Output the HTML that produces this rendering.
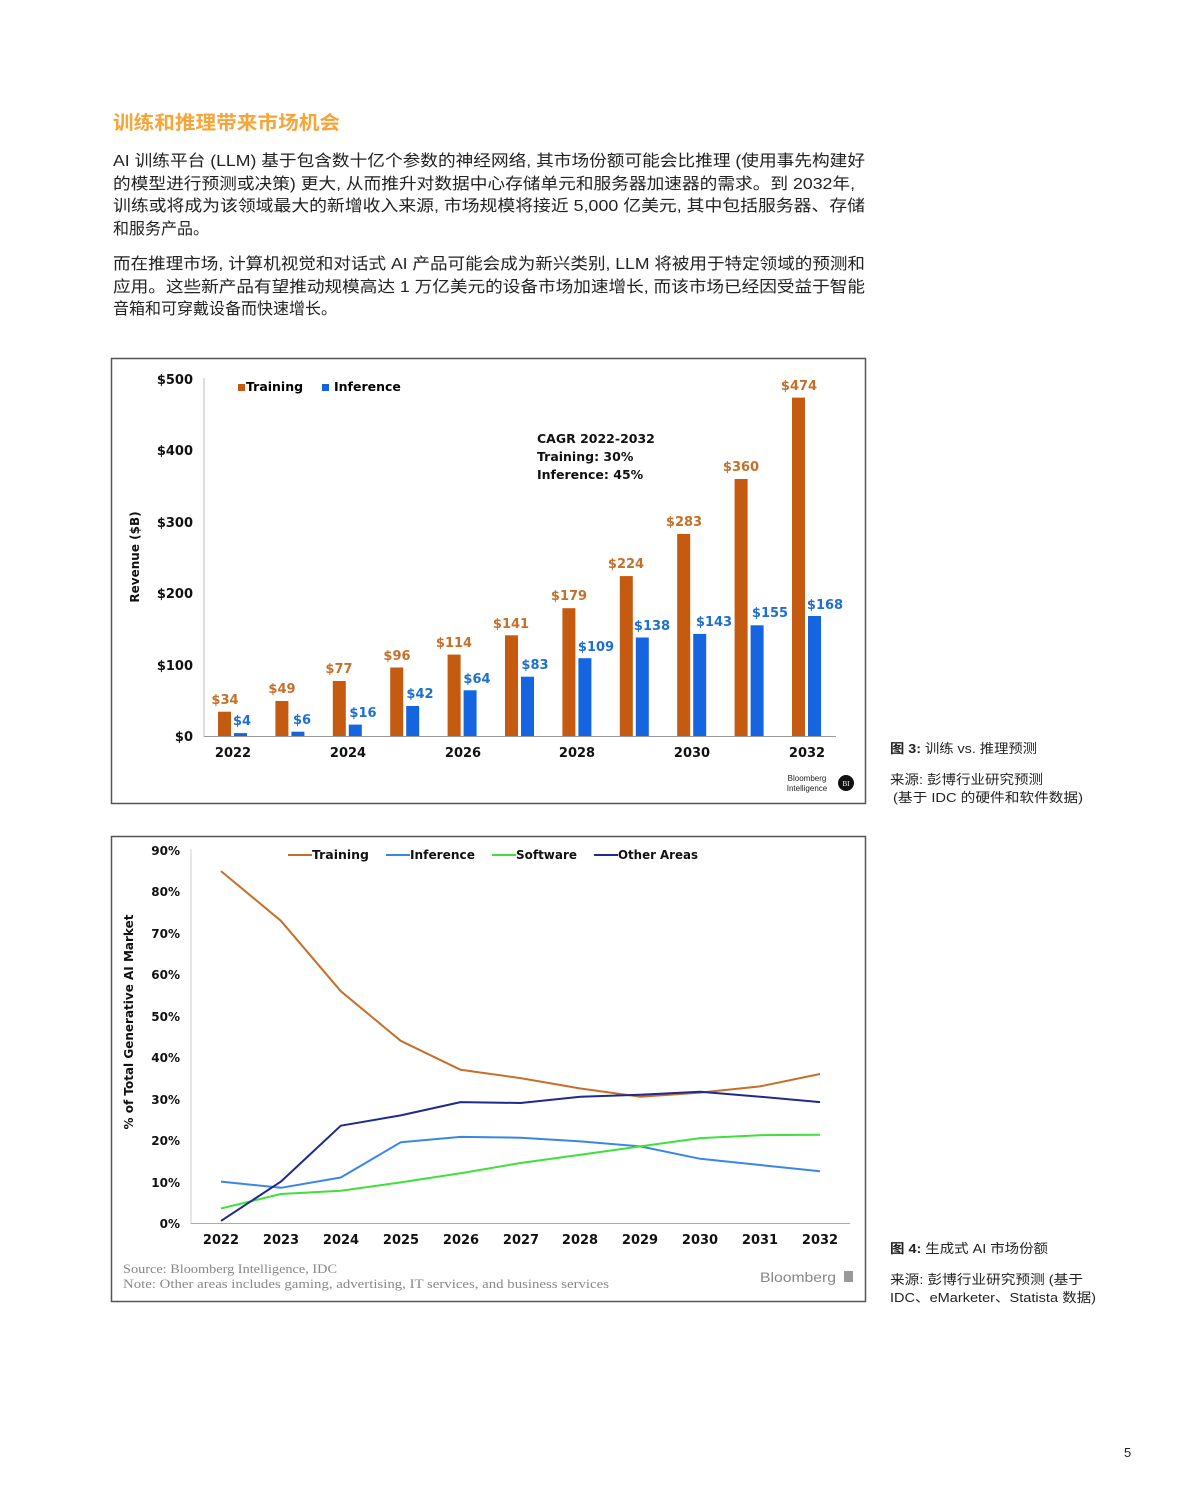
<!DOCTYPE html>
<html><head><meta charset="utf-8"><style>
body{margin:0;background:#fff;width:1200px;height:1501px;overflow:hidden;}
svg{display:block}
.cn{font-family:"Liberation Sans","Noto Sans CJK SC",sans-serif;}
.b{font-family:"DejaVu Sans","Liberation Sans",sans-serif;font-weight:bold;}
</style></head><body>
<svg width="1200" height="1501" viewBox="0 0 1200 1501" xmlns="http://www.w3.org/2000/svg">
<g class="cn">
<text x="113" y="129" font-size="19" font-weight="bold" fill="#f5a53a" textLength="227" lengthAdjust="spacingAndGlyphs">训练和推理带来市场机会</text>
<g font-size="16" fill="#222">
<text x="113" y="166" textLength="752" lengthAdjust="spacingAndGlyphs">AI 训练平台 (LLM) 基于包含数十亿个参数的神经网络, 其市场份额可能会比推理 (使用事先构建好</text>
<text x="113" y="189" textLength="742" lengthAdjust="spacingAndGlyphs">的模型进行预测或决策) 更大, 从而推升对数据中心存储单元和服务器加速器的需求。到 2032年,</text>
<text x="113" y="211" textLength="752" lengthAdjust="spacingAndGlyphs">训练或将成为该领域最大的新增收入来源, 市场规模将接近 5,000 亿美元, 其中包括服务器、存储</text>
<text x="113" y="234">和服务产品。</text>
<text x="113" y="269" textLength="752" lengthAdjust="spacingAndGlyphs">而在推理市场, 计算机视觉和对话式 AI 产品可能会成为新兴类别, LLM 将被用于特定领域的预测和</text>
<text x="113" y="292" textLength="752" lengthAdjust="spacingAndGlyphs">应用。这些新产品有望推动规模高达 1 万亿美元的设备市场加速增长, 而该市场已经因受益于智能</text>
<text x="113" y="314">音箱和可穿戴设备而快速增长。</text>
</g>
<g font-size="13" fill="#222">
<text x="890" y="753" textLength="147" lengthAdjust="spacingAndGlyphs"><tspan font-weight="bold">图 3:</tspan> 训练 vs. 推理预测</text>
<text x="890" y="784" textLength="153" lengthAdjust="spacingAndGlyphs">来源: 彭博行业研究预测</text>
<text x="893" y="802" textLength="190" lengthAdjust="spacingAndGlyphs">(基于 IDC 的硬件和软件数据)</text>
<text x="890" y="1253" textLength="158" lengthAdjust="spacingAndGlyphs"><tspan font-weight="bold">图 4:</tspan> 生成式 AI 市场份额</text>
<text x="890" y="1284" textLength="193" lengthAdjust="spacingAndGlyphs">来源: 彭博行业研究预测 (基于</text>
<text x="890" y="1302" textLength="206" lengthAdjust="spacingAndGlyphs">IDC、eMarketer、Statista 数据)</text>
<text x="1124" y="1457">5</text>
</g>
</g>

<!-- Chart 1 -->
<rect x="111.5" y="358.5" width="754" height="445" fill="#fff" stroke="#555" stroke-width="1.5"/>
<line x1="204" y1="378" x2="204" y2="737" stroke="#bbb"/>
<line x1="204" y1="736.5" x2="836" y2="736.5" stroke="#999"/>
<g class="b" font-size="13" fill="#111" text-anchor="end">
<text x="193" y="741">$0</text><text x="193" y="670">$100</text><text x="193" y="598">$200</text>
<text x="193" y="527">$300</text><text x="193" y="455">$400</text><text x="193" y="384">$500</text>
</g>
<text class="b" font-size="12" fill="#111" transform="translate(139,557) rotate(-90)" text-anchor="middle">Revenue ($B)</text>
<rect x="238" y="384" width="7" height="7" fill="#c55a11"/><text class="b" x="246" y="391" font-size="12.5">Training</text>
<rect x="322" y="384" width="7" height="7" fill="#1565e0"/><text class="b" x="334" y="391" font-size="12.5">Inference</text>
<g class="b" font-size="12.5" fill="#111"><text x="537" y="443">CAGR 2022-2032</text><text x="537" y="461">Training: 30%</text><text x="537" y="479">Inference: 45%</text></g>
<g fill="#c55a11">
<rect x="218" y="711.7" width="13" height="24.3"/><rect x="275.4" y="701" width="13" height="35"/><rect x="332.8" y="681" width="13" height="55"/><rect x="390.2" y="667.5" width="13" height="68.5"/><rect x="447.6" y="654.6" width="13" height="81.4"/><rect x="505" y="635.3" width="13" height="100.7"/><rect x="562.4" y="608.2" width="13" height="127.8"/><rect x="619.8" y="576.1" width="13" height="159.9"/><rect x="677.2" y="533.9" width="13" height="202.1"/><rect x="734.6" y="479" width="13" height="257"/><rect x="792" y="397.6" width="13" height="338.4"/>
</g>
<g fill="#1565e0">
<rect x="234" y="733.1" width="13" height="2.9"/><rect x="291.4" y="731.7" width="13" height="4.3"/><rect x="348.8" y="724.6" width="13" height="11.4"/><rect x="406.2" y="706" width="13" height="30"/><rect x="463.6" y="690.3" width="13" height="45.7"/><rect x="521" y="676.7" width="13" height="59.3"/><rect x="578.4" y="658.2" width="13" height="77.8"/><rect x="635.8" y="637.5" width="13" height="98.5"/><rect x="693.2" y="633.9" width="13" height="102.1"/><rect x="750.6" y="625.3" width="13" height="110.7"/><rect x="808" y="616" width="13" height="120"/>
</g>
<g class="b" font-size="13" fill="#c5702a" text-anchor="middle">
<text x="225" y="704">$34</text><text x="282" y="693">$49</text><text x="339" y="673">$77</text><text x="397" y="660">$96</text><text x="454" y="647">$114</text><text x="511" y="628">$141</text><text x="569" y="600">$179</text><text x="626" y="568">$224</text><text x="684" y="526">$283</text><text x="741" y="471">$360</text><text x="799" y="390">$474</text>
</g>
<g class="b" font-size="13" fill="#1f6fd0" text-anchor="middle">
<text x="242" y="725">$4</text><text x="302" y="724">$6</text><text x="363" y="717">$16</text><text x="420" y="698">$42</text><text x="477" y="683">$64</text><text x="535" y="669">$83</text><text x="596" y="651">$109</text><text x="652" y="630">$138</text><text x="714" y="626">$143</text><text x="770" y="617">$155</text><text x="825" y="609">$168</text>
</g>
<g class="b" font-size="13" fill="#111" text-anchor="middle">
<text x="233" y="757">2022</text><text x="348" y="757">2024</text><text x="463" y="757">2026</text><text x="577" y="757">2028</text><text x="692" y="757">2030</text><text x="807" y="757">2032</text>
</g>
<text x="807" y="781" font-size="8" font-family="Liberation Sans" text-anchor="middle" fill="#222">Bloomberg</text>
<text x="807" y="791" font-size="8" font-family="Liberation Sans" text-anchor="middle" fill="#222">Intelligence</text>
<circle cx="846" cy="783" r="8" fill="#111"/><text x="846" y="786" font-size="7" fill="#fff" text-anchor="middle" font-family="Liberation Serif">BI</text>

<!-- Chart 2 -->
<rect x="111.5" y="836.5" width="754" height="465" fill="#fff" stroke="#555" stroke-width="1.5"/>
<line x1="191" y1="849" x2="191" y2="1224" stroke="#ccc"/>
<line x1="191" y1="1223.5" x2="850" y2="1223.5" stroke="#aaa"/>
<g class="b" font-size="12" fill="#111" text-anchor="end">
<text x="180" y="1228">0%</text><text x="180" y="1187">10%</text><text x="180" y="1145">20%</text><text x="180" y="1104">30%</text><text x="180" y="1062">40%</text><text x="180" y="1021">50%</text><text x="180" y="979">60%</text><text x="180" y="938">70%</text><text x="180" y="896">80%</text><text x="180" y="855">90%</text>
</g>
<text class="b" font-size="12" fill="#111" transform="translate(133,1022) rotate(-90)" text-anchor="middle">% of Total Generative AI Market</text>
<g class="b" font-size="12.5" fill="#111">
<line x1="288" y1="855" x2="312" y2="855" stroke="#c5702a" stroke-width="2"/><text x="312" y="859" textLength="57" lengthAdjust="spacingAndGlyphs">Training</text>
<line x1="386" y1="855" x2="410" y2="855" stroke="#3a86e8" stroke-width="2"/><text x="410" y="859" textLength="65" lengthAdjust="spacingAndGlyphs">Inference</text>
<line x1="492" y1="855" x2="516" y2="855" stroke="#3ee03a" stroke-width="2"/><text x="516" y="859" textLength="61" lengthAdjust="spacingAndGlyphs">Software</text>
<line x1="594" y1="855" x2="618" y2="855" stroke="#1f2a8c" stroke-width="2"/><text x="618" y="859" textLength="80" lengthAdjust="spacingAndGlyphs">Other Areas</text>
</g>
<g fill="none" stroke-width="2" stroke-linejoin="round">
<polyline stroke="#c5702a" points="221,871.1 280.9,920.8 340.8,991.2 400.7,1040.8 460.6,1069.8 520.5,1078.1 580.4,1088.5 640.3,1096.7 700.2,1092.6 760.1,1086.4 820,1074"/>
<polyline stroke="#3a86e8" points="221,1181.6 280.9,1187.8 340.8,1177.5 400.7,1142.3 460.6,1136.9 520.5,1137.7 580.4,1141.4 640.3,1146.4 700.2,1158.8 760.1,1165 820,1171.3"/>
<polyline stroke="#3ee03a" points="221,1208.5 280.9,1194 340.8,1190.7 400.7,1182.4 460.6,1173.3 520.5,1163 580.4,1154.7 640.3,1146.4 700.2,1138.1 760.1,1135.2 820,1134.8"/>
<polyline stroke="#1f2a8c" points="221,1220.9 280.9,1181.6 340.8,1125.7 400.7,1115.4 460.6,1102.1 520.5,1103 580.4,1096.7 640.3,1094.7 700.2,1091.8 760.1,1096.7 820,1102.1"/>
</g>
<g class="b" font-size="13" fill="#111" text-anchor="middle">
<text x="221" y="1244">2022</text><text x="281" y="1244">2023</text><text x="341" y="1244">2024</text><text x="401" y="1244">2025</text><text x="461" y="1244">2026</text><text x="521" y="1244">2027</text><text x="580" y="1244">2028</text><text x="640" y="1244">2029</text><text x="700" y="1244">2030</text><text x="760" y="1244">2031</text><text x="820" y="1244">2032</text>
</g>
<g font-family="Liberation Serif" font-size="12.5" fill="#888">
<text x="123" y="1273" textLength="214" lengthAdjust="spacingAndGlyphs">Source: Bloomberg Intelligence, IDC</text>
<text x="123" y="1288" textLength="486" lengthAdjust="spacingAndGlyphs">Note: Other areas includes gaming, advertising, IT services, and business services</text>
</g>
<text x="760" y="1282" font-family="Liberation Sans" font-size="14" fill="#888" textLength="76" lengthAdjust="spacingAndGlyphs">Bloomberg</text>
<rect x="844" y="1271" width="9" height="11" fill="#999"/>
</svg>
</body></html>
